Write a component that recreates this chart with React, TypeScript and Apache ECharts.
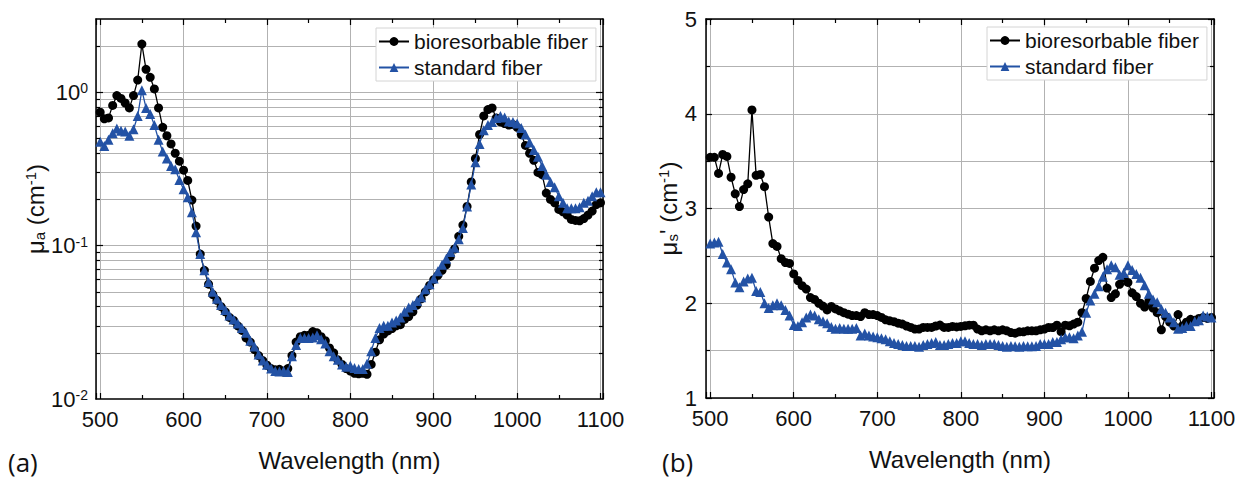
import React, { useEffect, useRef } from "react";
import * as echarts from "echarts";

const wavelengths = [
  500, 505, 510, 515, 520, 525, 530, 535, 540, 545,
  550, 555, 560, 565, 570, 575, 580, 585, 590, 595,
  600, 605, 610, 615, 620, 625, 630, 635, 640, 645,
  650, 655, 660, 665, 670, 675, 680, 685, 690, 695,
  700, 705, 710, 715, 720, 725, 730, 735, 740, 745,
  750, 755, 760, 765, 770, 775, 780, 785, 790, 795,
  800, 805, 810, 815, 820, 825, 830, 835, 840, 845,
  850, 855, 860, 865, 870, 875, 880, 885, 890, 895,
  900, 905, 910, 915, 920, 925, 930, 935, 940, 945,
  950, 955, 960, 965, 970, 975, 980, 985, 990, 995,
  1000, 1005, 1010, 1015, 1020, 1025, 1030, 1035, 1040, 1045,
  1050, 1055, 1060, 1065, 1070, 1075, 1080, 1085, 1090, 1095,
  1100,
];

// (a) absorption coefficient, cm^-1
const muaBio = [
  0.74, 0.67, 0.68, 0.82, 0.95, 0.91, 0.85, 0.79, 0.95, 1.2,
  2.06, 1.41, 1.25, 1.05, 0.79, 0.59, 0.52, 0.46, 0.40, 0.355,
  0.31, 0.266, 0.198, 0.134, 0.088, 0.069, 0.056, 0.048, 0.044, 0.040,
  0.037, 0.034, 0.0325, 0.030, 0.028, 0.025, 0.0235, 0.021, 0.0192, 0.0178,
  0.0166, 0.0158, 0.0155, 0.0156, 0.0150, 0.0158, 0.0192, 0.0235, 0.0255, 0.026,
  0.026, 0.0275, 0.027, 0.0255, 0.024, 0.0215, 0.020, 0.018, 0.0168, 0.0158,
  0.0152, 0.0147, 0.0146, 0.0147, 0.0145, 0.0168, 0.0202, 0.0243, 0.0265, 0.0278,
  0.0288, 0.030, 0.0305, 0.033, 0.0345, 0.037, 0.041, 0.045, 0.050, 0.055,
  0.060, 0.064, 0.069, 0.075, 0.085, 0.095, 0.115, 0.136, 0.18, 0.26,
  0.37, 0.53, 0.70, 0.77, 0.79, 0.68, 0.64, 0.625, 0.61, 0.615,
  0.59, 0.53, 0.45, 0.40, 0.36, 0.30, 0.29, 0.22, 0.20, 0.19,
  0.172, 0.166, 0.158, 0.148, 0.146, 0.145, 0.150, 0.158, 0.168, 0.185,
  0.19,
];

const muaStd = [
  0.475, 0.446, 0.49, 0.54, 0.58, 0.56, 0.555, 0.52, 0.573, 0.70,
  1.03, 0.79, 0.72, 0.61, 0.49, 0.41, 0.37, 0.33, 0.315, 0.268,
  0.233, 0.207, 0.165, 0.122, 0.088, 0.069, 0.058, 0.050, 0.045, 0.041,
  0.038, 0.035, 0.033, 0.031, 0.029, 0.027, 0.024, 0.022, 0.0195, 0.0178,
  0.0167, 0.0158, 0.0152, 0.0151, 0.0152, 0.015, 0.019, 0.0225, 0.025, 0.025,
  0.025, 0.0252, 0.026, 0.0245, 0.023, 0.0205, 0.019, 0.018, 0.0168, 0.0162,
  0.0165, 0.0159, 0.0157, 0.0157, 0.017, 0.0205, 0.025, 0.029, 0.030, 0.030,
  0.0315, 0.0325, 0.034, 0.037, 0.0395, 0.041, 0.0435, 0.046, 0.052, 0.056,
  0.061, 0.068, 0.075, 0.082, 0.091, 0.097, 0.11, 0.13, 0.18, 0.25,
  0.35, 0.46, 0.565, 0.61, 0.64, 0.68, 0.70, 0.685, 0.645, 0.64,
  0.625, 0.585, 0.53, 0.47, 0.42, 0.38, 0.33, 0.29, 0.26, 0.24,
  0.21, 0.19, 0.175, 0.175, 0.175, 0.178, 0.19, 0.196, 0.21, 0.223,
  0.223,
];

// (b) reduced scattering coefficient, cm^-1
const musBio = [
  3.54, 3.54, 3.37, 3.57, 3.55, 3.33, 3.155, 3.02, 3.20, 3.26,
  4.04, 3.35, 3.36, 3.23, 2.91, 2.63, 2.60, 2.47, 2.43, 2.42,
  2.31, 2.24, 2.185, 2.15, 2.06, 2.04, 2.00, 1.97, 1.93, 1.966,
  1.94, 1.92, 1.90, 1.885, 1.87, 1.87, 1.86, 1.90, 1.88, 1.88,
  1.87, 1.85, 1.825, 1.815, 1.805, 1.79, 1.78, 1.76, 1.745, 1.727,
  1.727, 1.745, 1.745, 1.745, 1.76, 1.77, 1.745, 1.745, 1.755, 1.75,
  1.755, 1.762, 1.769, 1.769, 1.727, 1.709, 1.72, 1.709, 1.72, 1.709,
  1.72, 1.709, 1.69, 1.684, 1.698, 1.698, 1.709, 1.709, 1.709, 1.72,
  1.727, 1.744, 1.744, 1.769, 1.70, 1.769, 1.762, 1.78, 1.80, 1.90,
  2.05, 2.23, 2.37, 2.45, 2.485, 2.16, 2.06, 2.10, 2.20, 2.27,
  2.22, 2.11, 2.07, 2.00, 1.96, 2.02, 1.95, 1.90, 1.72, 1.86,
  1.80, 1.76, 1.88, 1.76, 1.80, 1.83, 1.82, 1.84, 1.85, 1.84,
  1.85,
];

const musStd = [
  2.63, 2.64, 2.65, 2.52, 2.43, 2.36, 2.22, 2.17, 2.23, 2.26,
  2.27, 2.13, 2.12, 2.0, 1.95, 1.98, 2.0, 1.98, 1.93, 1.87,
  1.77, 1.76, 1.80, 1.85, 1.88, 1.87, 1.83, 1.81, 1.79, 1.75,
  1.73, 1.74, 1.73, 1.73, 1.73, 1.74, 1.66, 1.68, 1.66, 1.65,
  1.64, 1.63, 1.62, 1.60, 1.58, 1.57, 1.56, 1.55, 1.55, 1.55,
  1.54, 1.56, 1.57, 1.58, 1.59, 1.56, 1.56, 1.57, 1.58, 1.58,
  1.60, 1.60, 1.58, 1.57, 1.57, 1.56, 1.57, 1.57, 1.57, 1.56,
  1.55, 1.54, 1.55, 1.545, 1.54, 1.55, 1.545, 1.545, 1.55, 1.57,
  1.57, 1.57, 1.59, 1.59, 1.62, 1.64, 1.64, 1.63, 1.66, 1.70,
  1.90, 2.03, 2.10, 2.18, 2.28, 2.36, 2.40, 2.38, 2.30, 2.32,
  2.40, 2.35, 2.31, 2.27, 2.19, 2.10, 2.04, 2.01, 1.94, 1.90,
  1.85, 1.80, 1.73, 1.74, 1.76, 1.76, 1.81, 1.82, 1.87, 1.86,
  1.85,
];

const seriesNames = ["bioresorbable fiber", "standard fiber"];
const logDecades = [0.1, 1];
const logMinors = [
  0.02, 0.03, 0.04, 0.05, 0.06, 0.07, 0.08, 0.09,
  0.2, 0.3, 0.4, 0.5, 0.6, 0.7, 0.8, 0.9, 2,
];
const panelLabels = ["(a)", "(b)"];

const FONT = "'Liberation Sans', Arial, Helvetica, sans-serif";
const BLACK = "#000000";
const BLUE = "#2352a5";
const GRID = "#b2b2b2";
const TEXT = "#111111";
const X_MIN = 495;
const X_MAX = 1103;

function pairs(vals: number[]) {
  return wavelengths.map((w, i) => [w, vals[i]]);
}

const axisLineStyle = { show: true, onZero: false, lineStyle: { color: BLACK, width: 1.5 } };

function xAxes(gridIndex: number) {
  const common = {
    gridIndex,
    type: "value",
    min: X_MIN,
    max: X_MAX,
    splitNumber: 6,
    minInterval: 100,
    maxInterval: 100,
    axisLine: axisLineStyle,
    axisTick: { show: true, inside: true, length: 6, lineStyle: { color: BLACK, width: 1.2 } },
    minorTick: { show: true, splitNumber: 2, length: 4, lineStyle: { color: BLACK, width: 1.2 } },
  };
  return [
    {
      ...common,
      position: "bottom",
      axisLabel: {
        fontSize: 22,
        lineHeight: 22,
        fontFamily: FONT,
        color: TEXT,
        margin: 9,
        formatter: (v: number) => (Math.abs(v % 100) < 1e-6 ? String(v) : ""),
      },
      splitLine: { show: true, lineStyle: { color: GRID, width: 1 } },
      name: "Wavelength (nm)",
      nameLocation: "middle",
      nameGap: 49,
      nameTextStyle: { fontSize: 24, fontFamily: FONT, color: TEXT },
    },
    {
      ...common,
      position: "top",
      axisLabel: { show: false },
      splitLine: { show: false },
    },
  ];
}

const nameRich = {
  m: { fontSize: 24, fontFamily: FONT, color: TEXT },
  sub: { fontSize: 15, fontFamily: FONT, color: TEXT, verticalAlign: "bottom" },
  sup: { fontSize: 15, fontFamily: FONT, color: TEXT, verticalAlign: "top" },
};

function tickSegments(values: number[], x0: number, x1: number) {
  return values.map((v) => [{ coord: [x0, v] }, { coord: [x1, v] }]);
}

export default function App() {
  const ref = useRef<HTMLDivElement | null>(null);

  useEffect(() => {
    if (!ref.current) return;
    const chart = echarts.init(ref.current, null, { renderer: "svg" });

    const option: any = {
      animation: false,
      backgroundColor: "#ffffff",
      grid: [
        { left: 96, top: 19, width: 507, height: 380 },
        { left: 706, top: 19, width: 508, height: 379 },
      ],
      xAxis: [...xAxes(0), ...xAxes(1)],
      yAxis: [
        {
          gridIndex: 0,
          type: "log",
          logBase: 10,
          min: 0.01,
          max: 3,
          position: "left",
          axisLine: axisLineStyle,
          axisTick: { show: false },
          splitLine: { show: false },
          axisLabel: {
            margin: 8,
            formatter: (v: number) => {
              const e = Math.log10(v);
              const r = Math.round(e);
              if (Math.abs(e - r) > 1e-6) return "";
              return `{b|10}{s|${r}}`;
            },
            rich: {
              b: { fontSize: 22, lineHeight: 22, fontFamily: FONT, color: TEXT },
              s: { fontSize: 14, fontFamily: FONT, color: TEXT, verticalAlign: "top" },
            },
          },
          name: "{m|μ}{sub|a}{m| (cm}{sup|-1}{m|)}",
          nameLocation: "middle",
          nameGap: 46,
          nameRotate: 90,
          nameTextStyle: { rich: nameRich },
        },
        {
          gridIndex: 0,
          type: "log",
          logBase: 10,
          min: 0.01,
          max: 3,
          position: "right",
          axisLine: axisLineStyle,
          axisTick: { show: false },
          axisLabel: { show: false },
          splitLine: { show: false },
        },
        {
          gridIndex: 1,
          type: "value",
          min: 1,
          max: 5,
          interval: 1,
          position: "left",
          axisLine: axisLineStyle,
          axisTick: { show: true, inside: true, length: 6, lineStyle: { color: BLACK, width: 1.2 } },
          minorTick: { show: true, splitNumber: 2, length: 4, lineStyle: { color: BLACK, width: 1.2 } },
          splitLine: { show: true, lineStyle: { color: GRID, width: 1 } },
          minorSplitLine: { show: true, lineStyle: { color: GRID, width: 1 } },
          axisLabel: { fontSize: 22, lineHeight: 20, fontFamily: FONT, color: TEXT, margin: 9 },
          name: "{m|μ}{sub|s}{m|' (cm}{sup|-1}{m|)}",
          nameLocation: "middle",
          nameGap: 26,
          nameRotate: 90,
          nameTextStyle: { rich: nameRich },
        },
        {
          gridIndex: 1,
          type: "value",
          min: 1,
          max: 5,
          interval: 1,
          position: "right",
          axisLine: axisLineStyle,
          axisTick: { show: true, inside: true, length: 6, lineStyle: { color: BLACK, width: 1.2 } },
          minorTick: { show: true, splitNumber: 2, length: 4, lineStyle: { color: BLACK, width: 1.2 } },
          axisLabel: { show: false },
          splitLine: { show: false },
        },
      ],
      legend: [0, 1].map((i) => ({
        data: seriesNames,
        left: i === 0 ? 376 : 987,
        top: i === 0 ? 28 : 27,
        orient: "vertical",
        itemGap: 5,
        itemWidth: 30,
        itemHeight: 11,
        padding: [3, 8, 3, 2],
        borderColor: "#d4d4d4",
        borderWidth: 1,
        backgroundColor: "#ffffff",
        selectedMode: false,
        textStyle: { fontSize: 21, fontFamily: FONT, color: TEXT },
      })),
      graphic: panelLabels.map((t, i) => ({
        type: "text",
        left: i === 0 ? 8 : 662,
        top: 449,
        style: { text: t, fontSize: 26, fontFamily: "'Open Sans', 'DejaVu Sans', sans-serif", fill: TEXT },
      })),
      series: [
        // log-axis gridlines (panel a)
        {
          type: "line",
          xAxisIndex: 0,
          yAxisIndex: 0,
          data: [[800, 0.05]],
          symbol: "none",
          lineStyle: { opacity: 0 },
          silent: true,
          z: 1,
          markLine: {
            z: 1,
            silent: true,
            symbol: ["none", "none"],
            label: { show: false },
            lineStyle: { color: GRID, width: 1, type: "solid" },
            emphasis: { disabled: true },
            data: [...logDecades, ...logMinors].map((v) => ({ yAxis: v })),
          },
        },
        // log-axis ticks (panel a)
        {
          type: "line",
          xAxisIndex: 0,
          yAxisIndex: 0,
          data: [[800, 0.05]],
          symbol: "none",
          lineStyle: { opacity: 0 },
          silent: true,
          z: 6,
          markLine: {
            z: 6,
            silent: true,
            symbol: ["none", "none"],
            label: { show: false },
            lineStyle: { color: BLACK, width: 1.2, type: "solid" },
            emphasis: { disabled: true },
            data: [
              ...tickSegments(logDecades, X_MIN, X_MIN + 8.4),
              ...tickSegments(logMinors, X_MIN, X_MIN + 4.8),
              ...tickSegments(logDecades, X_MAX - 8.4, X_MAX),
              ...tickSegments(logMinors, X_MAX - 4.8, X_MAX),
            ],
          },
        },
        {
          name: seriesNames[0],
          type: "line",
          xAxisIndex: 0,
          yAxisIndex: 0,
          data: pairs(muaBio),
          symbol: "circle",
          symbolSize: 9,
          itemStyle: { color: BLACK },
          lineStyle: { color: BLACK, width: 1.3 },
          z: 3,
        },
        {
          name: seriesNames[1],
          type: "line",
          xAxisIndex: 0,
          yAxisIndex: 0,
          data: pairs(muaStd),
          symbol: "triangle",
          symbolSize: 10,
          itemStyle: { color: BLUE },
          lineStyle: { color: BLUE, width: 1.3 },
          z: 4,
        },
        {
          name: seriesNames[0],
          type: "line",
          xAxisIndex: 2,
          yAxisIndex: 2,
          data: pairs(musBio),
          symbol: "circle",
          symbolSize: 9,
          itemStyle: { color: BLACK },
          lineStyle: { color: BLACK, width: 1.3 },
          z: 3,
        },
        {
          name: seriesNames[1],
          type: "line",
          xAxisIndex: 2,
          yAxisIndex: 2,
          data: pairs(musStd),
          symbol: "triangle",
          symbolSize: 10,
          itemStyle: { color: BLUE },
          lineStyle: { color: BLUE, width: 1.3 },
          z: 4,
        },
      ],
    };

    chart.setOption(option);
    return () => chart.dispose();
  }, []);

  return (
    <div
      ref={ref}
      style={{ position: "absolute", left: 0, top: 0, width: 1247, height: 481, background: "#fff" }}
    />
  );
}
